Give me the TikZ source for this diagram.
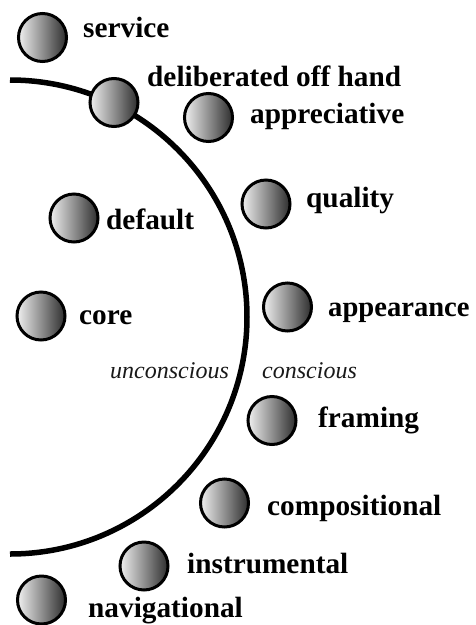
\documentclass[tikz,border=0pt]{standalone}
\usepackage{fontspec}
\setmainfont{Liberation Serif}
\begin{document}
\begin{tikzpicture}[x=1pt,y=-1pt,
  ball/.style={circle,draw=black,line width=3pt,minimum size=48pt,inner sep=0pt,
    left color=black!6,right color=black!82},
  lbl/.style={anchor=base west,inner sep=0pt,font=\fontsize{29.3}{34}\selectfont\bfseries},
  itl/.style={anchor=base west,inner sep=0pt,font=\fontsize{24}{28}\selectfont\itshape,text=black!90}]
\useasboundingbox (0,0) rectangle (475,625);
% the boundary arc
\draw[line width=5.5pt] (10,80) arc[start angle=-90,end angle=90,radius=237];
% balls
\node[ball] (bservice) at (42.5,37.5) {};
\node[ball] (bdelib) at (114,102.5) {};
\node[ball] (bappr) at (208.5,117.5) {};
\node[ball] (bquality) at (266,204) {};
\node[ball] (bdefault) at (74,218) {};
\node[ball] (bcore) at (41,316) {};
\node[ball] (bappear) at (287.5,307) {};
\node[ball] (bframing) at (272,420.5) {};
\node[ball] (bcomp) at (224.5,503) {};
\node[ball] (binstr) at (144,566) {};
\node[ball] (bnav) at (41.5,600) {};
% labels
\node[lbl] (tservice) at (83,37) {service};
\node[lbl] (tdelib) at (147,86) {deliberated off hand};
\node[lbl] (tappr) at (250,123) {appreciative};
\node[lbl] (tquality) at (306,207) {quality};
\node[lbl] (tdefault) at (106,229) {default};
\node[lbl] (tcore) at (79,324) {core};
\node[lbl] (tappear) at (328,316) {\fontsize{28.6}{34}\selectfont appearance};
\node[lbl] (tframing) at (318,427) {framing};
\node[lbl] (tcomp) at (267,515) {compositional};
\node[lbl] (tinstr) at (187,573) {instrumental};
\node[lbl] (tnav) at (88,617) {navigational};
\node[itl] (tuncon) at (110,378) {unconscious};
\node[itl] (tcon) at (262,378) {conscious};
\end{tikzpicture}
\end{document}
